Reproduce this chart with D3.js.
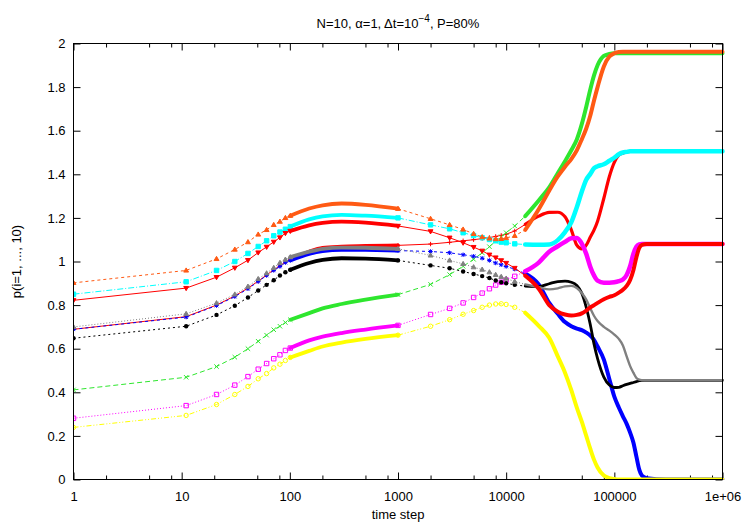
<!DOCTYPE html>
<html><head><meta charset="utf-8">
<script src="https://cdn.jsdelivr.net/npm/d3@7"></script>
<style>
body{margin:0;background:#fff}
svg text{font-family:"Liberation Sans",Arial,Helvetica,sans-serif;}
</style>
</head><body><svg id="c" width="747" height="523"></svg>
<script>
// ---- data ----
const timeSteps = [1,11,21,31,41,51,61,71,81,91,101,151,201,301,501,1000,2000,3000,4000,5000,6000,7000,8000,9000,10000,12000,15000,20000,25000,30000,35000,40000,45000,50000,55000,60000,65000,70000,80000,90000,100000,110000,120000,130000,140000,150000,160000,170000,180000,200000,300000,500000,1000000];

const p1 = [0.689,0.747,0.800,0.842,0.878,0.910,0.938,0.962,0.980,0.998,1.010,1.045,1.062,1.068,1.071,1.074,
1.080,1.088,1.095,1.100,1.105,1.110,1.115,1.120,1.125,1.140,1.170,1.208,
1.225,1.226,1.205,1.145,1.075,1.058,1.075,1.112,1.145,1.185,
1.290,1.390,1.455,1.488,1.497,1.502,1.505,1.506,1.507,1.507,1.507,
1.507,1.507,1.507,1.507];
const p2 = [0.411,0.469,0.518,0.561,0.600,0.634,0.662,0.687,0.703,0.720,0.733,0.763,0.785,0.805,0.825,0.848,
0.895,0.940,0.978,1.010,1.040,1.068,1.093,1.113,1.132,1.163,1.208,1.280,
1.340,1.405,1.460,1.510,1.560,1.630,1.710,1.790,1.855,1.900,
1.943,1.952,1.955,1.955,1.955,1.955,1.955,1.955,1.955,1.955,1.955,
1.955,1.955,1.955,1.955];
const p3 = [0.689,0.745,0.798,0.839,0.875,0.908,0.936,0.959,0.977,0.995,1.005,1.035,1.048,1.054,1.053,1.050,
1.046,1.040,1.031,1.024,1.015,1.005,0.993,0.985,0.977,0.965,0.945,0.895,
0.810,0.760,0.722,0.703,0.692,0.685,0.674,0.660,0.640,0.610,
0.550,0.460,0.380,0.330,0.290,0.255,0.215,0.170,0.105,0.045,0.018,
0.006,0,0,0];
const p4 = [0.281,0.339,0.390,0.433,0.472,0.506,0.532,0.554,0.572,0.592,0.603,0.638,0.655,0.672,0.688,0.707,
0.757,0.785,0.810,0.835,0.855,0.875,0.892,0.905,0.915,0.932,0.955,0.995,
1.045,1.070,1.090,1.107,1.108,1.082,1.035,0.975,0.935,0.912,
0.903,0.903,0.905,0.910,0.918,0.938,0.978,1.035,1.068,1.078,1.080,
1.080,1.080,1.080,1.080];
const p5 = [0.850,0.907,0.959,1.000,1.037,1.069,1.095,1.118,1.135,1.148,1.160,1.193,1.207,1.214,1.210,1.200,
1.168,1.150,1.132,1.119,1.109,1.101,1.095,1.089,1.086,1.081,1.078,1.077,
1.078,1.098,1.135,1.180,1.249,1.320,1.375,1.402,1.428,1.437,
1.446,1.462,1.476,1.492,1.500,1.503,1.506,1.506,1.506,1.506,1.506,
1.506,1.506,1.506,1.506];
const p6 = [0.239,0.294,0.344,0.390,0.427,0.462,0.486,0.512,0.529,0.546,0.560,0.590,0.610,0.628,0.645,0.662,
0.703,0.733,0.758,0.775,0.790,0.800,0.805,0.806,0.803,0.790,0.765,0.705,
0.650,0.565,0.490,0.410,0.330,0.265,0.200,0.140,0.090,0.055,
0.018,0.006,0.002,0,0,0,0,0,0,0,0,
0,0,0,0];
const p7 = [0.648,0.703,0.755,0.797,0.835,0.867,0.893,0.914,0.936,0.951,0.962,0.993,1.007,1.015,1.013,1.005,
0.982,0.969,0.954,0.943,0.933,0.924,0.913,0.905,0.900,0.893,0.887,0.885,
0.898,0.908,0.910,0.905,0.890,0.855,0.790,0.710,0.620,0.555,
0.470,0.433,0.422,0.423,0.430,0.436,0.441,0.445,0.449,0.453,0.455,
0.455,0.455,0.455,0.455];
const p8 = [0.902,0.959,1.012,1.055,1.089,1.124,1.145,1.168,1.183,1.200,1.210,1.243,1.258,1.266,1.260,1.242,
1.196,1.168,1.147,1.127,1.112,1.106,1.103,1.104,1.108,1.118,1.145,1.240,
1.325,1.390,1.435,1.470,1.510,1.560,1.610,1.670,1.740,1.800,
1.895,1.940,1.955,1.961,1.962,1.962,1.962,1.962,1.962,1.962,1.962,
1.962,1.962,1.962,1.962];
const p9 = [0.700,0.760,0.809,0.849,0.885,0.920,0.946,0.971,0.994,1.009,1.020,1.045,1.058,1.064,1.063,1.058,
1.028,1.005,0.989,0.974,0.963,0.951,0.939,0.930,0.922,0.908,0.895,0.882,
0.872,0.877,0.886,0.888,0.878,0.855,0.825,0.785,0.750,0.727,
0.700,0.683,0.665,0.645,0.615,0.565,0.520,0.490,0.466,0.458,0.456,
0.455,0.455,0.455,0.455];
const p10 = [0.822,0.878,0.928,0.971,1.006,1.041,1.067,1.090,1.110,1.130,1.140,1.166,1.177,1.183,1.178,1.163,
1.138,1.109,1.086,1.066,1.049,1.031,1.018,1.005,0.993,0.970,0.935,0.875,
0.800,0.770,0.757,0.752,0.755,0.762,0.775,0.790,0.800,0.810,
0.827,0.838,0.845,0.857,0.870,0.888,0.915,0.960,1.020,1.062,1.076,
1.080,1.080,1.080,1.080];

const xTickValues = [1,10,100,1000,10000,100000,1000000];
const xTickLabels = ["1","10","100","1000","10000","100000","1e+06"];
const xMinorMultipliers = [2,5,8];
const yTickValues = [0,0.2,0.4,0.6,0.8,1,1.2,1.4,1.6,1.8,2];
const yTickLabels = ["0","0.2","0.4","0.6","0.8","1","1.2","1.4","1.6","1.8","2"];
const titlePre = "N=10, \u03b1=1, \u0394t=10";
const titleSup = "\u22124";
const titlePost = ", P=80%";
const xLabel = "time step";
const yLabel = "p(i=1, ..., 10)";

// ---- styles ----
const series = [
  {v:p1,  color:"#ff0000", dash:null,          marker:"plus",  band:3.8, band2:3.2},
  {v:p2,  color:"#2ee62e", dash:"5,3",         marker:"cross", band:3.8, band2:4},
  {v:p3,  color:"#0000ff", dash:"3,3",         marker:"star",  band:3.8, band2:4},
  {v:p4,  color:"#ff00ff", dash:"1,2",         marker:"osq",   band:3.8, band2:4.5},
  {v:p5,  color:"#00ffff", dash:"6,2,1,2",     marker:"fsq",   band:3.8, band2:4.5},
  {v:p6,  color:"#ffff00", dash:"5,2,1,2,1,2", marker:"ocirc", band:3.8, band2:4},
  {v:p7,  color:"#000000", dash:"2,3",         marker:"fcirc", band:3.8, band2:2.8},
  {v:p8,  color:"#ff5a14", dash:"3,3",         marker:"tri",   band:3.8, band2:4},
  {v:p9,  color:"#808080", dash:"1,2",         marker:"tri",   band:3.8, band2:2.4},
  {v:p10, color:"#ff0000", dash:null,          marker:"tridn", band:3.8, band2:4}
];

const svg = d3.select("#c");
const L = 73.5, R = 722.5, T = 43.5, B = 479.5;
const x = d3.scaleLog().domain([1,1e6]).range([L,R]);
const y = d3.scaleLinear().domain([0,2]).range([B,T]);

svg.append("defs").append("clipPath").attr("id","clip")
  .append("rect").attr("x",L).attr("y",T-4).attr("width",R-L+4).attr("height",B-T+4);

// ---- axes ----
const fs = 13;
const gx = svg.append("g").attr("transform",`translate(0,${B})`)
  .call(d3.axisBottom(x).tickValues(xTickValues).tickFormat((d,i)=>xTickLabels[i])
    .tickSizeInner(-7).tickSizeOuter(0).tickPadding(12));
const gxt = svg.append("g").attr("transform",`translate(0,${T})`)
  .call(d3.axisTop(x).tickValues(xTickValues).tickFormat("").tickSizeInner(-7).tickSizeOuter(0));
const minor = [];
for (let e=0;e<6;e++) for (const m of xMinorMultipliers) minor.push(m*Math.pow(10,e));
const gxm = svg.append("g").attr("transform",`translate(0,${B})`)
  .call(d3.axisBottom(x).tickValues(minor).tickFormat("").tickSizeInner(-4).tickSizeOuter(0));
const gxmt = svg.append("g").attr("transform",`translate(0,${T})`)
  .call(d3.axisTop(x).tickValues(minor).tickFormat("").tickSizeInner(-4).tickSizeOuter(0));
const gy = svg.append("g").attr("transform",`translate(${L},0)`)
  .call(d3.axisLeft(y).tickValues(yTickValues).tickFormat((d,i)=>yTickLabels[i])
    .tickSizeInner(-7).tickSizeOuter(0).tickPadding(8));
const gyr = svg.append("g").attr("transform",`translate(${R},0)`)
  .call(d3.axisRight(y).tickValues(yTickValues).tickFormat("").tickSizeInner(-7).tickSizeOuter(0));
[gx,gxt,gxm,gxmt,gy,gyr].forEach(g=>{
  g.select(".domain").remove();
  g.selectAll("line").attr("stroke","#000").attr("stroke-width",1);
  g.selectAll("text").attr("font-size",fs).attr("fill","#000")
    .attr("font-family","'Liberation Sans',Arial,sans-serif");
});

// ---- series ----
const plot = svg.append("g").attr("clip-path","url(#clip)");
const lineThin = d3.line().x(d=>x(d[0])).y(d=>y(d[1]));
const lineBand = d3.line().x(d=>x(d[0])).y(d=>y(d[1])).curve(d3.curveMonotoneX);

function markerPath(type, s){
  switch(type){
    case "plus": return `M${-s},0H${s}M0,${-s}V${s}`;
    case "cross": return `M${-s},${-s}L${s},${s}M${-s},${s}L${s},${-s}`;
    case "star": return `M${-s},0H${s}M0,${-s}V${s}M${-s*0.8},${-s*0.8}L${s*0.8},${s*0.8}M${-s*0.8},${s*0.8}L${s*0.8},${-s*0.8}`;
    case "osq": case "fsq": return `M${-s},${-s}H${s}V${s}H${-s}Z`;
    case "tri": return `M0,${-s*1.15}L${s*1.1},${s*0.75}L${-s*1.1},${s*0.75}Z`;
    case "tridn": return `M0,${s*1.15}L${s*1.1},${-s*0.75}L${-s*1.1},${-s*0.75}Z`;
  }
  return "";
}

series.forEach(sr=>{
  const pts = timeSteps.map((t,i)=>[t, sr.v[i]]);
  const g = plot.append("g");
  // thin connecting lines (sparse sampling regions)
  const segA = pts.filter(p=>p[0]<=101);
  const segB = pts.filter(p=>p[0]>=1000 && p[0]<=15000);
  [segA, segB].forEach(seg=>{
    g.append("path").attr("d",lineThin(seg)).attr("fill","none")
      .attr("stroke",sr.color).attr("stroke-width",1)
      .attr("stroke-dasharray",sr.dash);
  });
  // dense sampling regions: overlapping markers form a thick band
  const band1 = pts.filter(p=>p[0]>=101 && p[0]<=1000);
  const band2 = pts.filter(p=>p[0]>=15000);
  g.append("path").attr("d",lineBand(band1)).attr("fill","none")
    .attr("stroke",sr.color).attr("stroke-width",sr.band).attr("stroke-linecap","round").attr("stroke-linejoin","round");
  g.append("path").attr("d",lineBand(band2)).attr("fill","none")
    .attr("stroke",sr.color).attr("stroke-width",sr.band2).attr("stroke-linecap","round").attr("stroke-linejoin","round");
  // markers
  const mpts = pts.filter(p=>p[0]<=101 || (p[0]>=1000 && p[0]<=12000));
  mpts.forEach(p=>{
    const cx = x(p[0]), cy = y(p[1]);
    if (sr.marker==="ocirc"){
      g.append("circle").attr("cx",cx).attr("cy",cy).attr("r",2.2)
        .attr("fill","none").attr("stroke",sr.color).attr("stroke-width",1);
    } else if (sr.marker==="fcirc"){
      g.append("circle").attr("cx",cx).attr("cy",cy).attr("r",2.2).attr("fill",sr.color);
    } else {
      const s = 2.2;
      const filled = ["fsq","tri","tridn"].includes(sr.marker);
      g.append("path").attr("transform",`translate(${cx},${cy})`)
        .attr("d",markerPath(sr.marker,s))
        .attr("fill",filled?sr.color:"none")
        .attr("stroke",sr.color).attr("stroke-width",1);
    }
  });
});

// ---- frame ----
svg.append("rect").attr("x",L).attr("y",T).attr("width",R-L).attr("height",B-T)
  .attr("fill","none").attr("stroke","#000").attr("stroke-width",1);

// ---- labels ----
const title = svg.append("text").attr("x",(L+R)/2).attr("y",28).attr("text-anchor","middle")
  .attr("font-size",fs).attr("fill","#000");
title.append("tspan").text(titlePre);
title.append("tspan").attr("dy",-6).attr("font-size",10).text(titleSup);
title.append("tspan").attr("dy",6).text(titlePost);

svg.append("text").attr("x",(L+R)/2).attr("y",519).attr("text-anchor","middle")
  .attr("font-size",fs).attr("fill","#000").text(xLabel);
svg.append("text").attr("transform",`translate(21,${(T+B)/2}) rotate(-90)`)
  .attr("text-anchor","middle").attr("font-size",fs).attr("fill","#000").text(yLabel);
</script>
</body></html>
